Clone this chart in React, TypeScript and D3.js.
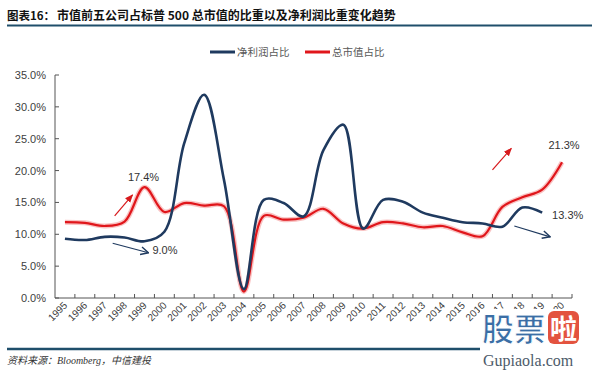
import React from 'react';
import * as d3 from 'd3';

// years on the category axis
const years = d3.range(1995, 2021).map(String);

// 净利润占比 (%), stops at 2019
const profitShare = [9.3, 9.1, 9.6, 9.5, 8.9, 10.4, 24.3, 31.9, 18.5, 1.4, 15.4, 14.9, 12.8, 23.2, 27.2, 10.9, 15.4, 15.1, 13.4, 12.6, 11.9, 11.7, 11.2, 14.2, 13.4];
// 总市值占比 (%)
const capShare = [11.9, 11.8, 11.3, 12.0, 17.4, 13.5, 14.9, 14.5, 14.4, 1.0, 12.9, 12.3, 12.6, 14.0, 11.7, 10.9, 11.9, 11.7, 11.1, 11.3, 10.3, 9.7, 14.3, 15.8, 17.0, 21.3];

const yTicks = [0, 5, 10, 15, 20, 25, 30, 35];

// callouts: [index, value] pairs in data space
const arrows = [
  { from: [2.5, 12.9], to: [3.4, 16.2], color: '#d7191c', head: 'red' },
  { from: [2.4, 8.6], to: [4.2, 7.1], color: '#1f3a5f', head: 'blue' },
  { from: [21.5, 20.1], to: [22.45, 23.5], color: '#d7191c', head: 'red' },
  { from: [22.6, 11.3], to: [24.4, 9.6], color: '#1f3a5f', head: 'blue' },
];
const callouts = [
  { text: '17.4%', at: [3.95, 18.4], anchor: 'middle' },
  { text: '9.0%', at: [4.4, 6.9], anchor: 'start' },
  { text: '21.3%', at: [25.1, 23.4], anchor: 'middle' },
  { text: '13.3%', at: [24.5, 12.4], anchor: 'start' },
];

const BLUE = '#1f3a5f';
const RED = '#e0161b';
const RULE = '#1f4e6b';

export default function App() {
  const left = 55, right = 572, top = 75, bottom = 298;
  const x = d3.scaleBand().domain(years).range([left, right]);
  const xi = d3.scaleLinear().domain([-0.5, years.length - 0.5]).range([left, right]);
  const y = d3.scaleLinear().domain([0, 35]).range([bottom, top]);

  const line = d3.line<number>()
    .x((d, i) => xi(i))
    .y(d => y(d))
    .curve(d3.curveCatmullRom.alpha(0.5));

  const axisFont = '"Liberation Sans", Arial, sans-serif';
  const cjk = '"Noto Sans CJK SC", sans-serif';

  return (
    <svg width={600} height={370} style={{ position: 'absolute', left: 0, top: 0, background: '#fff' }}>
      <defs>
        <marker id="red" viewBox="0 0 10 10" refX="9" refY="5" markerWidth="7" markerHeight="7" orient="auto">
          <path d="M0,1 L10,5 L0,9 Z" fill="#d7191c" />
        </marker>
        <marker id="blue" viewBox="0 0 10 10" refX="9" refY="5" markerWidth="8" markerHeight="8" orient="auto">
          <path d="M1,1 L9,5 L1,9" fill="none" stroke={BLUE} strokeWidth="1.5" />
        </marker>
      </defs>

      {/* title */}
      <text x={7} y={20} fontFamily={cjk} fontWeight="bold" fontSize={11.5} fill="#111">图表16：</text>
      <text x={57} y={20} fontFamily={cjk} fontWeight="bold" fontSize={12} fill="#111">
        市值前五公司占标普 500 总市值的比重以及净利润比重变化趋势
      </text>
      <line x1={7} x2={592} y1={25.5} y2={25.5} stroke={RULE} strokeWidth={2} />

      {/* legend */}
      <line x1={210} x2={235} y1={52} y2={52} stroke={BLUE} strokeWidth={3} />
      <text x={237} y={56} fontFamily={cjk} fontSize={10.5} fill="#595959">净利润占比</text>
      <line x1={305} x2={330} y1={52} y2={52} stroke={RED} strokeWidth={3} />
      <text x={332} y={56} fontFamily={cjk} fontSize={10.5} fill="#595959">总市值占比</text>

      {/* y axis */}
      <line x1={left} x2={left} y1={top} y2={bottom} stroke="#555" />
      {yTicks.map(t => (
        <g key={t}>
          <line x1={left} x2={left + 4} y1={y(t)} y2={y(t)} stroke="#555" />
          <text x={46} y={y(t) + 4} textAnchor="end" fontFamily={axisFont} fontSize={11} fill="#404040">
            {t.toFixed(1)}%
          </text>
        </g>
      ))}

      {/* x axis */}
      <line x1={left} x2={right} y1={bottom} y2={bottom} stroke="#555" />
      {years.map((yr, i) => (
        <g key={yr}>
          <line x1={(x(yr) as number) + x.bandwidth()} x2={(x(yr) as number) + x.bandwidth()} y1={bottom} y2={bottom - 4} stroke="#555" />
          <text
            transform={`translate(${xi(i) + 3},${bottom + 8}) rotate(-45)`}
            textAnchor="end"
            fontFamily={axisFont}
            fontSize={10}
            fill="#404040"
          >
            {yr}
          </text>
        </g>
      ))}

      {/* series */}
      <path d={line(capShare) as string} fill="none" stroke="#f6a9a9" strokeWidth={5} strokeOpacity={0.7} />
      <path d={line(capShare) as string} fill="none" stroke={RED} strokeWidth={2.2} />
      <path d={line(profitShare) as string} fill="none" stroke={BLUE} strokeWidth={2.6} />

      {/* callouts */}
      {arrows.map((a, i) => (
        <line key={i}
          x1={xi(a.from[0])} y1={y(a.from[1])}
          x2={xi(a.to[0])} y2={y(a.to[1])}
          stroke={a.color} strokeWidth={1.2}
          markerEnd={`url(#${a.head})`} />
      ))}
      {callouts.map(c => (
        <text key={c.text} x={xi(c.at[0])} y={y(c.at[1])} textAnchor={c.anchor as any}
          fontFamily={axisFont} fontSize={11} fill="#333">
          {c.text}
        </text>
      ))}

      {/* footer */}
      <line x1={7} x2={482} y1={349} y2={349} stroke={RULE} strokeWidth={2.5} />
      <text x={7} y={364} fontFamily={'"Liberation Serif", "Noto Sans CJK SC", serif'} fontStyle="italic" fontSize={10} fill="#333">
        资料来源：Bloomberg，中信建投
      </text>

      {/* watermark */}
      <g>
        <rect x={480} y={309} width={120} height={61} fill="#fff" />
        <text x={482} y={341} fontFamily={cjk} fontWeight="bold" fontSize={32} fill="#3b6ea5" stroke="#fff" strokeWidth={1}>股票</text>
        <rect x={548} y={311} width={31} height={33} rx={6} fill="#e3533f" />
        <text x={563.5} y={339} textAnchor="middle" fontFamily={cjk} fontWeight="bold" fontSize={27} fill="#fff">啦</text>
        <text x={483} y={366} fontFamily={'"Liberation Serif", serif'} fontSize={16} fill="#4d5b6a">Gupiaola.com</text>
      </g>
    </svg>
  );
}
